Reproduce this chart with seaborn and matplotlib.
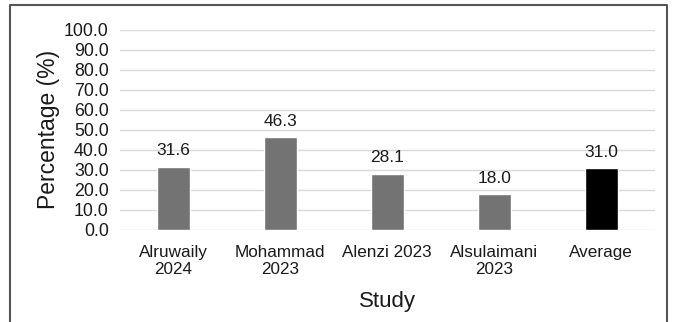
import matplotlib
matplotlib.use("Agg")
import matplotlib.pyplot as plt
import seaborn as sns
import pandas as pd
from matplotlib.lines import Line2D

studies = ["Alruwaily\n2024", "Mohammad\n2023", "Alenzi 2023", "Alsulaimani\n2023", "Average"]
percentages = [31.6, 46.3, 28.1, 18.0, 31.0]
bar_colors = ["#737373", "#737373", "#737373", "#737373", "#000000"]
y_ticks = [0, 10, 20, 30, 40, 50, 60, 70, 80, 90, 100]

sns.set_theme(style="white")
plt.rcParams["font.family"] = ["Liberation Sans", "DejaVu Sans"]

df = pd.DataFrame({"Study": studies, "Percentage": percentages})

fig = plt.figure(figsize=(6.73, 3.22), dpi=100)
ax = fig.add_axes([0.178, 0.286, 0.795, 0.621])

sns.barplot(data=df, x="Study", y="Percentage", hue="Study",
            palette=dict(zip(studies, bar_colors)), width=0.31,
            legend=False, ax=ax, saturation=1)

for c in ax.containers:
    ax.bar_label(c, fmt="%.1f", padding=6, fontsize=12.5, color="#1a1a1a")

ax.set_ylim(0, 100)
ax.set_xlim(-0.5, 4.5)
ax.set_yticks(y_ticks)
ax.set_yticklabels([f"{v:.1f}" for v in y_ticks], fontsize=12.8, color="#1a1a1a")
ax.tick_params(axis="x", labelsize=12.3, labelcolor="#1a1a1a", length=0, pad=11)
ax.tick_params(axis="y", length=0, pad=8)
for lbl in ax.get_xticklabels():
    lbl.set_linespacing(1.15)
ax.yaxis.grid(True, color="#d9d9d9", linewidth=1)
ax.set_axisbelow(True)
for s in ax.spines.values():
    s.set_visible(False)

ax.set_ylabel("Percentage (%)", fontsize=16.5, color="#1a1a1a", labelpad=3)
ax.set_xlabel("Study", fontsize=16, color="#1a1a1a", labelpad=10)

# outer frame (open at the bottom)
x0, x1, y1 = 9.5 / 673, 667 / 673, 1 - 4.5 / 322
frame = Line2D([x0, x0, x1, x1], [0, y1, y1, 0], transform=fig.transFigure,
               color="#555555", linewidth=1.5)
fig.add_artist(frame)

fig.savefig("out.png", dpi=100)
